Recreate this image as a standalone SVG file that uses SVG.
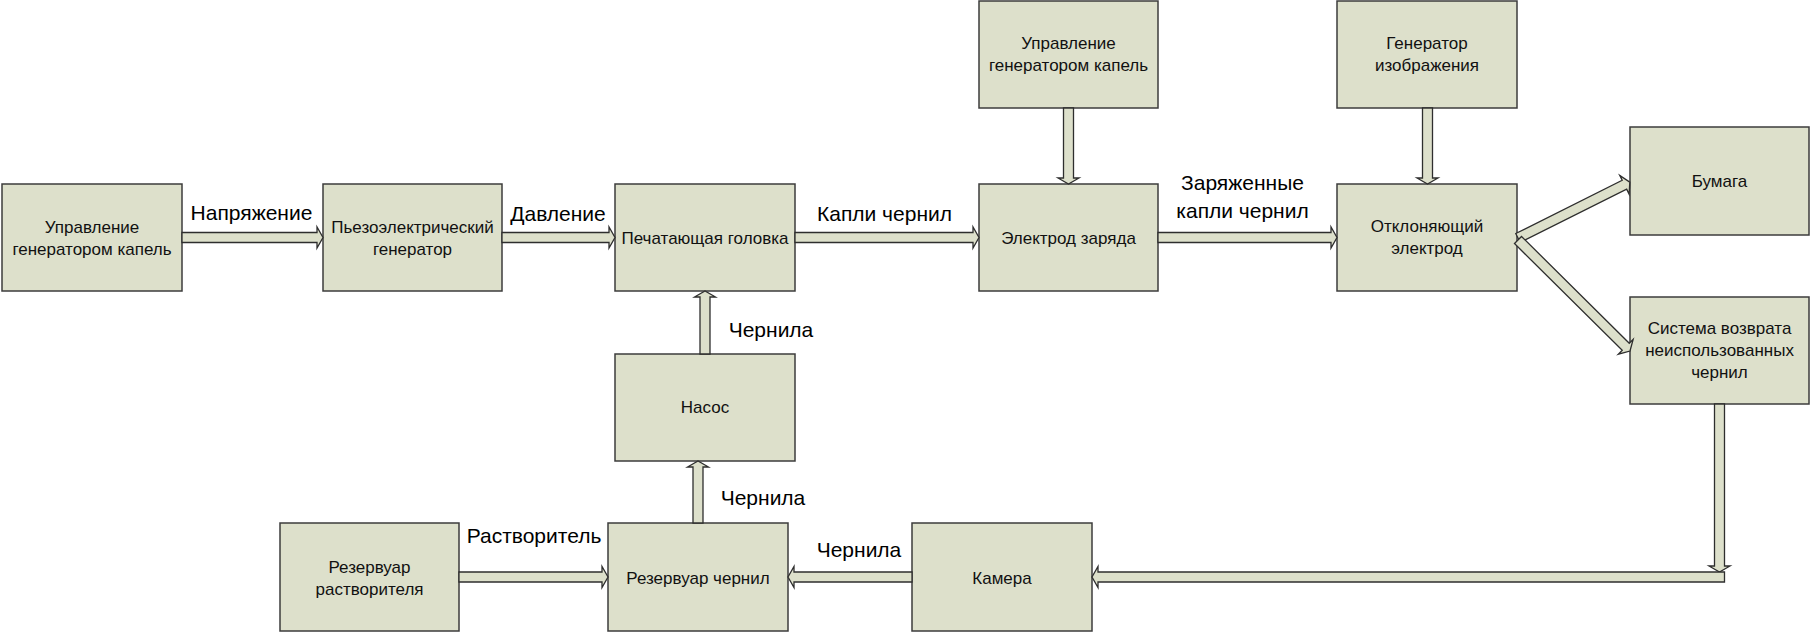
<svg xmlns="http://www.w3.org/2000/svg" width="1811" height="632" viewBox="0 0 1811 632">
<style>
.box{fill:#dde0cb;stroke:#3c3c3c;stroke-width:1.5}
.arr{fill:#dde0cb;stroke:#2e2e2e;stroke-width:1.3;stroke-linejoin:miter}
.t{font-family:"Liberation Sans",Arial,sans-serif;font-size:17px;fill:#111;text-anchor:middle}
.lbl{font-family:"Liberation Sans",Arial,sans-serif;font-size:21px;fill:#000;text-anchor:middle}
</style>
<rect width="1811" height="632" fill="#ffffff"/>
<g id="node-drop-control-left"><rect class="box" x="2" y="184" width="180" height="107"/><text class="t" x="92" y="233">Управление</text><text class="t" x="92" y="255">генератором капель</text></g>
<g id="node-piezo"><rect class="box" x="323" y="184" width="179" height="107"/><text class="t" x="412.5" y="233">Пьезоэлектрический</text><text class="t" x="412.5" y="255">генератор</text></g>
<g id="node-printhead"><rect class="box" x="615" y="184" width="180" height="107"/><text class="t" x="705" y="244">Печатающая головка</text></g>
<g id="node-charge-electrode"><rect class="box" x="979" y="184" width="179" height="107"/><text class="t" x="1068.5" y="244">Электрод заряда</text></g>
<g id="node-drop-control-top"><rect class="box" x="979" y="1" width="179" height="107"/><text class="t" x="1068.5" y="49">Управление</text><text class="t" x="1068.5" y="71">генератором капель</text></g>
<g id="node-image-generator"><rect class="box" x="1337" y="1" width="180" height="107"/><text class="t" x="1427" y="49">Генератор</text><text class="t" x="1427" y="71">изображения</text></g>
<g id="node-deflector"><rect class="box" x="1337" y="184" width="180" height="107"/><text class="t" x="1427" y="232">Отклоняющий</text><text class="t" x="1427" y="254">электрод</text></g>
<g id="node-paper"><rect class="box" x="1630" y="127" width="179" height="108"/><text class="t" x="1719.5" y="187">Бумага</text></g>
<g id="node-return"><rect class="box" x="1630" y="297" width="179" height="107"/><text class="t" x="1719.5" y="334">Система возврата</text><text class="t" x="1719.5" y="356">неиспользованных</text><text class="t" x="1719.5" y="378">чернил</text></g>
<g id="node-pump"><rect class="box" x="615" y="354" width="180" height="107"/><text class="t" x="705" y="413">Насос</text></g>
<g id="node-ink-tank"><rect class="box" x="608" y="523" width="180" height="108"/><text class="t" x="698" y="584">Резервуар чернил</text></g>
<g id="node-solvent-tank"><rect class="box" x="280" y="523" width="179" height="108"/><text class="t" x="369.5" y="573">Резервуар</text><text class="t" x="369.5" y="595">растворителя</text></g>
<g id="node-chamber"><rect class="box" x="912" y="523" width="180" height="108"/><text class="t" x="1002" y="584">Камера</text></g>
<g id="connectors">
<polygon class="arr" points="182,232.5 317,232.5 317,227 323,237.5 317,248 317,242.5 182,242.5"/>
<polygon class="arr" points="502,232.5 609,232.5 609,227 615,237.5 609,248 609,242.5 502,242.5"/>
<polygon class="arr" points="795,232.5 973,232.5 973,227 979,237.5 973,248 973,242.5 795,242.5"/>
<polygon class="arr" points="1158,232.5 1331,232.5 1331,227 1337,237.5 1331,248 1331,242.5 1158,242.5"/>
<polygon class="arr" points="1063.5,108 1073.5,108 1073.5,178 1079,178 1068.5,184 1058,178 1063.5,178"/>
<polygon class="arr" points="1422.5,108 1432.5,108 1432.5,178 1438,178 1427.5,184 1417,178 1422.5,178"/>
<polygon class="arr" transform="translate(1518,238) rotate(-26.57)" points="0,-5 119,-5 119,-10.5 125,0 119,10.5 119,5 0,5"/>
<polygon class="arr" transform="translate(1518,240) rotate(44.74)" points="0,-5 151.7,-5 151.7,-10.5 157.7,0 151.7,10.5 151.7,5 0,5"/>
<polygon class="arr" points="1714.5,404 1724.5,404 1724.5,566 1730,566 1719.5,572 1709,566 1714.5,566"/>
<polygon class="arr" points="1724.5,572 1098,572 1098,566.5 1092,577 1098,587.5 1098,582 1724.5,582"/>
<polygon class="arr" points="912,572 794,572 794,566.5 788,577 794,587.5 794,582 912,582"/>
<polygon class="arr" points="459,572 602,572 602,566.5 608,577 602,587.5 602,582 459,582"/>
<polygon class="arr" points="693,523 703,523 703,467 708.5,467 698,461 687.5,467 693,467"/>
<polygon class="arr" points="700,354 710,354 710,297 715.5,297 705,291 694.5,297 700,297"/>
<text class="lbl" x="251.5" y="220">Напряжение</text>
<text class="lbl" x="558" y="221">Давление</text>
<text class="lbl" x="884.5" y="221">Капли чернил</text>
<text class="lbl" x="1242.5" y="190">Заряженные</text>
<text class="lbl" x="1242.5" y="218">капли чернил</text>
<text class="lbl" x="771" y="337">Чернила</text>
<text class="lbl" x="763" y="505">Чернила</text>
<text class="lbl" x="534" y="543">Растворитель</text>
<text class="lbl" x="859" y="557">Чернила</text>
</g>
</svg>
